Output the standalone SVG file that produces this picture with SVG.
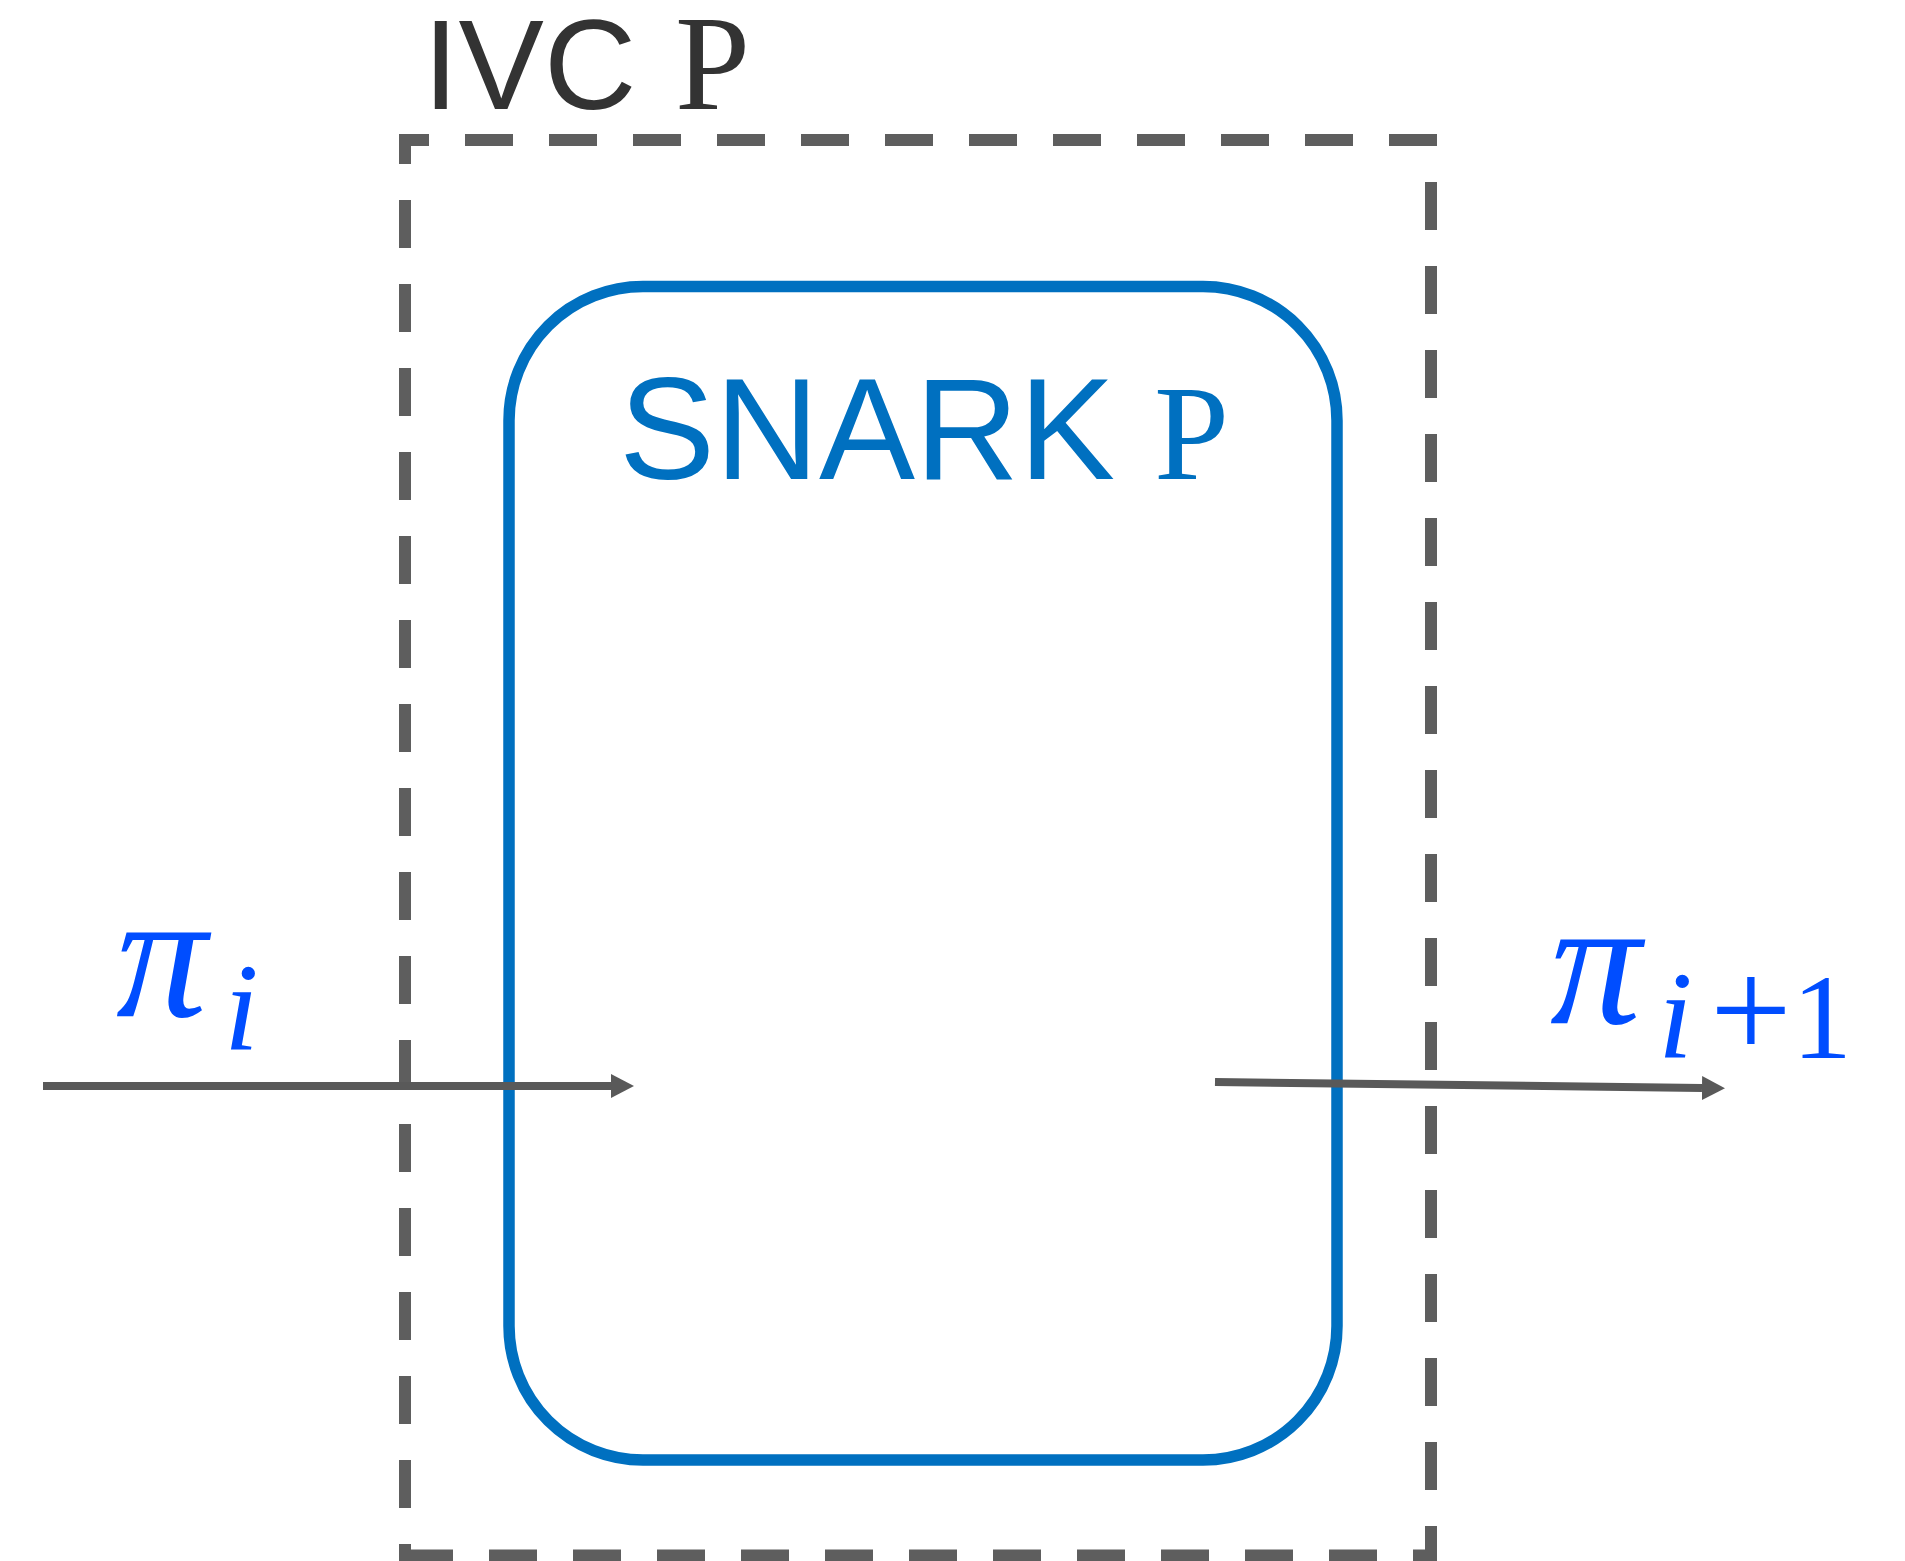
<svg xmlns="http://www.w3.org/2000/svg" width="1905" height="1561" viewBox="0 0 1905 1561">
<defs>
<style>
.frame{stroke:#5E5E5E;stroke-width:12;fill:none;stroke-dasharray:48 36}
.box{stroke:#0070C0;stroke-width:11.5;fill:none}
.conn{stroke:#595959;stroke-width:8;fill:none}
.ivc{font-family:"Liberation Sans",Arial,sans-serif;font-size:128px;fill:#333333}
.ivcp{font-family:"Liberation Serif","Times New Roman",serif;font-size:135px;fill:#333333}
.snark{font-family:"Liberation Sans",Arial,sans-serif;font-size:144px;fill:#0070C0}
.snarkp{font-family:"Liberation Serif","Times New Roman",serif;font-size:135px;fill:#0070C0}
.math{font-family:"Liberation Serif","Times New Roman",serif;font-style:italic;fill:#004DFF}
.mathup{font-family:"Liberation Serif","Times New Roman",serif;fill:#004DFF}
</style>
<marker id="arrow" markerUnits="userSpaceOnUse" markerWidth="26" markerHeight="26" refX="0" refY="12" orient="auto">
<path d="M0,0 L23,12 L0,24 Z" fill="#595959"/>
</marker>
</defs>
<g id="ivc-frame">
<line class="frame" x1="399" y1="140" x2="1437" y2="140" stroke-dashoffset="18"/>
<line class="frame" x1="1431" y1="182" x2="1431" y2="1561"/>
<line class="frame" x1="405" y1="1555.5" x2="1437" y2="1555.5"/>
<line class="frame" x1="405" y1="134" x2="405" y2="1561" stroke-dashoffset="18"/>
<text class="ivc" x="423" y="109">IVC</text>
<text class="ivcp" x="675" y="109">P</text>
</g>
<g id="snark">
<rect class="box" x="509" y="286.5" width="828" height="1173.5" rx="134" ry="134"/>
<text class="snark" x="619" y="479">SNARK</text>
<text class="snarkp" x="1154" y="479">P</text>
</g>
<g id="connectors">
<line class="conn" x1="43" y1="1086" x2="611" y2="1086" marker-end="url(#arrow)"/>
<line class="conn" x1="1215" y1="1082" x2="1702" y2="1088" marker-end="url(#arrow)"/>
</g>
<g id="label-pi-i">
<text class="math" x="116" y="1016" font-size="182">π</text>
<text class="math" x="224" y="1050" font-size="125">i</text>
</g>
<g id="label-pi-i1">
<text class="math" x="1550" y="1023" font-size="182">π</text>
<text class="math" x="1658" y="1058" font-size="125">i</text>
<text class="mathup" x="1710" y="1058" font-size="145">+</text>
<text class="mathup" x="1792" y="1058" font-size="120">1</text>
</g>
</svg>
